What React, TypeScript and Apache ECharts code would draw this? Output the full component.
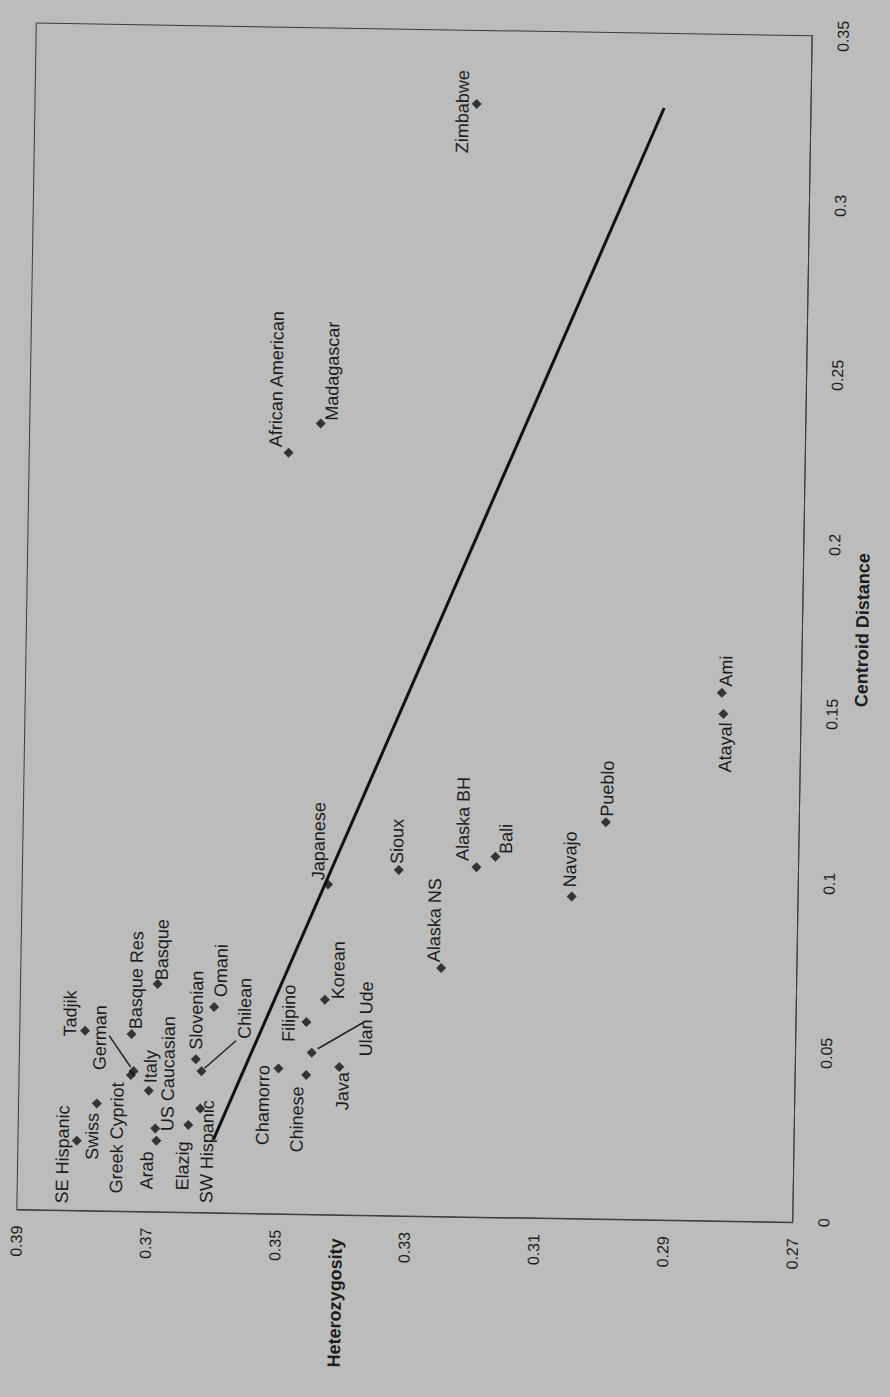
import React, { useEffect, useRef } from "react";
import * as echarts from "echarts";

// ---- data ----
const populations = [
  "SE Hispanic", "Swiss", "Tadjik", "German", "Greek Cypriot", "Italy", "US Caucasian", "Arab",
  "Elazig", "SW Hispanic", "Slovenian", "Chilean", "Omani", "Basque", "Basque Res", "Chamorro",
  "Chinese", "Filipino", "Ulan Ude", "Java", "Korean", "Japanese", "Sioux", "Alaska NS",
  "Alaska BH", "Bali", "Navajo", "Pueblo", "Atayal", "Ami", "African American", "Madagascar", "Zimbabwe",
];
const centroidDistance = [
  0.0206, 0.0317, 0.0531, 0.0414, 0.0402, 0.0357, 0.0246, 0.021,
  0.0258, 0.0307, 0.0452, 0.0417, 0.0607, 0.0672, 0.0523, 0.0429,
  0.0411, 0.0567, 0.0477, 0.0436, 0.0634, 0.0974, 0.102, 0.0733,
  0.1032, 0.1064, 0.095, 0.1171, 0.1496, 0.1558, 0.2245, 0.2333, 0.3283,
];
const heterozygosity = [
  0.3809, 0.3779, 0.3799, 0.3723, 0.3727, 0.3699, 0.3688, 0.3686,
  0.3637, 0.3619, 0.3627, 0.3618, 0.36, 0.3688, 0.3727, 0.3499,
  0.3456, 0.3457, 0.3448, 0.3405, 0.3429, 0.3427, 0.3318, 0.325,
  0.3198, 0.3169, 0.305, 0.2999, 0.282, 0.2823, 0.3499, 0.345, 0.3217,
];
const trendCentroid = [0.0215, 0.328];
const trendHeterozygosity = [0.3598, 0.2927];

// ---- label layout (pixel offsets of each label centre from its point) ----
const labelOffsets: [number, number][] = [
  [-14, 14], [-4, 33], [-15, -17], [-34, -33], [-13, 63], [1.5, -24], [12, -55], [-9, 30],
  [-5, 41], [7.5, 43], [0, -49], [42.5, -63.5], [6.5, -36.5], [4, -34.5], [4, -54], [-15, 37],
  [-8.5, 44.5], [-17.5, -8.5], [54, -34.7], [3.6, 24], [13, -29.6], [-10, -43], [-2, -28.5], [-7.5, -47.8],
  [-14, -48], [10.5, -18], [-2, -37], [1, -33.5], [2.4, 33.5], [4, -21.7], [-13, -73.5], [11, -52.5], [-14, 8],
];
const leaderLines = [
  { index: 3, from: [-25, -35], to: [-3, -4] },
  { index: 11, from: [34, -31], to: [3, -3] },
  { index: 18, from: [51, -31], to: [6, -4] },
];

const FONT = '"Liberation Sans", Arial, sans-serif';
const BG = "#bcbcbc";
const INK = "#1c1c1c";

export default function App() {
  const ref = useRef<HTMLDivElement>(null);

  useEffect(() => {
    if (!ref.current) return;
    const chart = echarts.init(ref.current, null, { renderer: "svg" });
    const points = populations.map((n, i) => ({ name: n, value: [heterozygosity[i], centroidDistance[i]] }));
    chart.setOption({
      animation: false,
      backgroundColor: BG,
      textStyle: { fontFamily: FONT },
      grid: {
        left: 26.5, right: 87.5, top: 29.4, bottom: 181,
        show: true, borderColor: "#3c3c3c", borderWidth: 1, backgroundColor: "transparent",
      },
      xAxis: {
        type: "value", min: 0.27, max: 0.39, interval: 0.02, inverse: true, position: "bottom",
        axisLine: { show: true, onZero: false, lineStyle: { color: "#3c3c3c", width: 1 } },
        axisTick: { show: false }, splitLine: { show: false },
        axisLabel: {
          rotate: 90, margin: 16, fontSize: 16, color: INK, fontFamily: FONT,
          formatter: (v: number) => v.toFixed(2),
        },
      },
      yAxis: {
        type: "value", min: 0, max: 0.35, interval: 0.05, position: "right",
        axisLine: { show: true, onZero: false, lineStyle: { color: "#3c3c3c", width: 1 } },
        axisTick: { show: false }, splitLine: { show: false },
        axisLabel: {
          rotate: 90, margin: 23, fontSize: 16, color: INK, fontFamily: FONT,
          formatter: (v: number) => String(Math.round(v * 100) / 100),
        },
        name: "Centroid Distance", nameLocation: "middle", nameRotate: 90, nameGap: 51,
        nameTextStyle: { fontSize: 18, fontWeight: "bold", color: INK, fontFamily: FONT },
      },
      series: [
        {
          type: "line",
          data: trendCentroid.map((c, i) => [trendHeterozygosity[i], c]),
          showSymbol: false, symbol: "none",
          lineStyle: { color: "#111", width: 3 },
          z: 2,
        },
        {
          type: "scatter",
          data: points,
          symbol: "diamond", symbolSize: 10,
          itemStyle: { color: "#111" },
          z: 3,
        },
      ],
    });

    const px = points.map((p) => chart.convertToPixel({ seriesIndex: 1 }, p.value) as number[]);
    const graphics: any[] = [];
    populations.forEach((name, i) => {
      const [dx, dy] = labelOffsets[i];
      graphics.push({
        type: "text", silent: true, z: 10,
        x: px[i][0] + dx, y: px[i][1] + dy, rotation: Math.PI / 2,
        style: { text: name, fontSize: 18, fontFamily: FONT, fill: INK, align: "center", verticalAlign: "middle" },
      });
    });
    leaderLines.forEach((l) => {
      const p = px[l.index];
      graphics.push({
        type: "line", silent: true, z: 9,
        shape: { x1: p[0] + l.from[0], y1: p[1] + l.from[1], x2: p[0] + l.to[0], y2: p[1] + l.to[1] },
        style: { stroke: "#222", lineWidth: 1.5 },
      });
    });
    graphics.push({
      type: "text", silent: true, z: 10, x: 346, y: 1304, rotation: Math.PI / 2,
      style: { text: "Heterozygosity", fontSize: 18, fontWeight: "bold", fontFamily: FONT, fill: INK, align: "center", verticalAlign: "middle" },
    });
    chart.setOption({ graphic: graphics });

    return () => chart.dispose();
  }, []);

  return (
    <div style={{ position: "fixed", left: 0, top: 0, width: 890, height: 1397, background: BG, overflow: "hidden" }}>
      <div
        ref={ref}
        style={{
          position: "absolute", left: 0, top: 0, width: 890, height: 1397,
          transform: "rotate(0.94deg)", transformOrigin: "414.5px 622.7px",
        }}
      />
    </div>
  );
}
